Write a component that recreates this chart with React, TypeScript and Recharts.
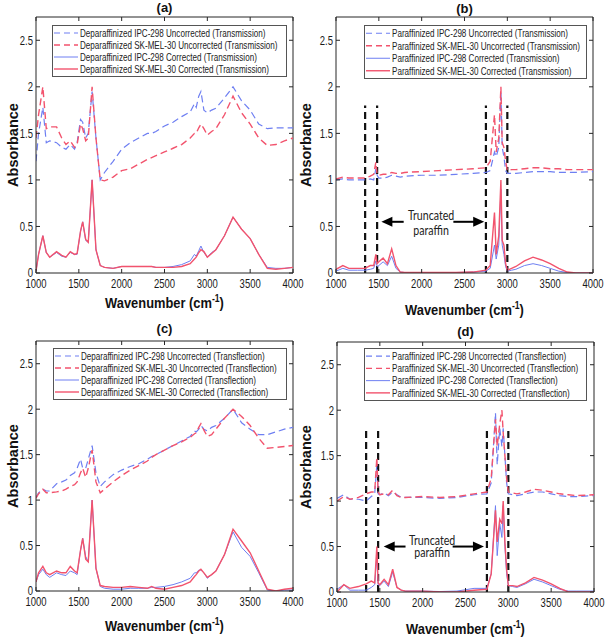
import React from 'react';
import { LineChart, Line, XAxis, YAxis, ReferenceLine, ReferenceDot, Legend } from 'recharts';

// wavenumber grids (cm-1)
const wnDep = [1000, 1030, 1080, 1120, 1160, 1240, 1300, 1350, 1400, 1450, 1480, 1520, 1545, 1580, 1610, 1655, 1700, 1750, 1800, 1900, 2000, 2100, 2200, 2300, 2350, 2400, 2500, 2600, 2700, 2800, 2850, 2870, 2900, 2925, 2960, 3000, 3050, 3100, 3200, 3300, 3400, 3500, 3600, 3700, 3800, 3900, 4000];
const wnPar = [1000, 1080, 1150, 1250, 1340, 1400, 1440, 1465, 1480, 1500, 1550, 1600, 1650, 1700, 1750, 1800, 2000, 2200, 2400, 2600, 2750, 2800, 2850, 2870, 2900, 2925, 2940, 2960, 2980, 3000, 3050, 3100, 3200, 3300, 3400, 3500, 3600, 3700, 3800, 4000];

// (a) deparaffinized, transmission
const aIpcUnc = [1.2, 1.5, 1.78, 1.4, 1.42, 1.4, 1.35, 1.33, 1.38, 1.33, 1.4, 1.65, 1.62, 1.45, 1.5, 1.95, 1.45, 1.0, 1.08, 1.2, 1.33, 1.4, 1.45, 1.5, 1.5, 1.52, 1.58, 1.62, 1.68, 1.73, 1.82, 1.78, 1.9, 1.95, 1.75, 1.72, 1.75, 1.77, 1.88, 2.0, 1.85, 1.75, 1.6, 1.55, 1.56, 1.56, 1.56];
const aSkUnc = [1.45, 1.7, 2.0, 1.55, 1.57, 1.57, 1.45, 1.38, 1.42, 1.35, 1.38, 1.6, 1.55, 1.42, 1.45, 2.0, 1.45, 1.0, 0.99, 1.03, 1.1, 1.12, 1.17, 1.22, 1.24, 1.26, 1.3, 1.34, 1.38, 1.45, 1.5, 1.5, 1.56, 1.6, 1.55, 1.48, 1.52, 1.55, 1.7, 1.9, 1.72, 1.6, 1.45, 1.37, 1.38, 1.42, 1.45];
const aIpcCor = [0.02, 0.2, 0.4, 0.22, 0.17, 0.22, 0.18, 0.17, 0.22, 0.2, 0.2, 0.45, 0.55, 0.35, 0.33, 1.0, 0.25, 0.08, 0.06, 0.05, 0.07, 0.07, 0.07, 0.07, 0.07, 0.06, 0.06, 0.07, 0.09, 0.13, 0.2, 0.18, 0.24, 0.29, 0.22, 0.17, 0.22, 0.25, 0.4, 0.6, 0.47, 0.37, 0.2, 0.06, 0.05, 0.05, 0.06];
const aSkCor = [0.02, 0.2, 0.4, 0.22, 0.17, 0.23, 0.19, 0.17, 0.23, 0.2, 0.21, 0.45, 0.55, 0.36, 0.33, 1.0, 0.25, 0.08, 0.06, 0.05, 0.07, 0.07, 0.07, 0.07, 0.07, 0.06, 0.06, 0.06, 0.07, 0.1, 0.15, 0.17, 0.22, 0.25, 0.23, 0.17, 0.21, 0.25, 0.4, 0.6, 0.47, 0.37, 0.2, 0.05, 0.04, 0.05, 0.06];

// (b) paraffinized, transmission
const bIpcUnc = [1.0, 1.01, 1.0, 1.0, 1.0, 1.01, 1.0, 1.12, 1.05, 1.02, 1.02, 1.03, 1.05, 1.04, 1.03, 1.04, 1.05, 1.05, 1.06, 1.07, 1.08, 1.1, 1.3, 1.25, 1.35, 1.95, 1.35, 1.25, 1.1, 1.07, 1.07, 1.07, 1.08, 1.09, 1.09, 1.09, 1.08, 1.08, 1.08, 1.09];
const bSkUnc = [1.01, 1.03, 1.02, 1.02, 1.02, 1.04, 1.06, 1.19, 1.06, 1.05, 1.06, 1.06, 1.08, 1.07, 1.07, 1.08, 1.09, 1.1, 1.11, 1.12, 1.13, 1.2, 1.7, 1.3, 1.45, 2.0, 1.4, 1.35, 1.2, 1.1, 1.11, 1.11, 1.12, 1.13, 1.13, 1.12, 1.12, 1.11, 1.11, 1.11];
const bIpcCor = [0.02, 0.05, 0.03, 0.03, 0.03, 0.04, 0.05, 0.13, 0.07, 0.08, 0.12, 0.08, 0.18, 0.05, 0.01, 0.005, 0.005, 0.005, 0.005, 0.01, 0.02, 0.05, 0.3, 0.15, 0.3, 0.9, 0.3, 0.2, 0.07, 0.02, 0.03, 0.04, 0.08, 0.1, 0.08, 0.05, 0.02, 0.005, 0, 0];
const bSkCor = [0.04, 0.08, 0.05, 0.05, 0.05, 0.08, 0.08, 0.2, 0.1, 0.12, 0.16, 0.1, 0.26, 0.08, 0.01, 0.005, 0.005, 0.005, 0.005, 0.01, 0.03, 0.08, 0.65, 0.2, 0.4, 1.0, 0.35, 0.3, 0.1, 0.03, 0.05, 0.07, 0.13, 0.17, 0.14, 0.1, 0.05, 0.01, 0, 0];

// (c) deparaffinized, transflection
const cIpcUnc = [1.03, 1.08, 1.12, 1.1, 1.1, 1.18, 1.2, 1.22, 1.27, 1.3, 1.35, 1.45, 1.35, 1.35, 1.45, 1.6, 1.3, 1.15, 1.2, 1.28, 1.33, 1.37, 1.4, 1.45, 1.48, 1.5, 1.55, 1.6, 1.65, 1.7, 1.76, 1.75, 1.78, 1.82, 1.78, 1.76, 1.8, 1.82, 1.9, 2.0, 1.85, 1.78, 1.72, 1.72, 1.75, 1.78, 1.8];
const cSkUnc = [1.02, 1.07, 1.12, 1.08, 1.08, 1.09, 1.1, 1.12, 1.15, 1.17, 1.2, 1.3, 1.35, 1.25, 1.35, 1.55, 1.2, 1.08, 1.12, 1.2, 1.27, 1.33, 1.38, 1.43, 1.47, 1.5, 1.55, 1.6, 1.64, 1.69, 1.73, 1.74, 1.8, 1.84, 1.77, 1.7, 1.72, 1.78, 1.9, 2.0, 1.92, 1.82, 1.68, 1.57, 1.58, 1.59, 1.6];
const cIpcCor = [0.1, 0.18, 0.24, 0.18, 0.15, 0.2, 0.18, 0.17, 0.22, 0.2, 0.18, 0.45, 0.58, 0.38, 0.32, 1.0, 0.25, 0.05, 0.03, 0.02, 0.02, 0.03, 0.03, 0.03, 0.04, 0.04, 0.05, 0.07, 0.1, 0.14, 0.2, 0.2, 0.23, 0.23, 0.2, 0.14, 0.18, 0.22, 0.4, 0.65, 0.48, 0.38, 0.2, 0.01, 0.0, 0.01, 0.01];
const cSkCor = [0.1, 0.2, 0.27, 0.2, 0.18, 0.22, 0.2, 0.2, 0.27, 0.22, 0.2, 0.45, 0.58, 0.35, 0.32, 1.0, 0.25, 0.06, 0.05, 0.04, 0.04, 0.05, 0.04, 0.03, 0.05, 0.03, 0.02, 0.04, 0.06, 0.1, 0.16, 0.18, 0.22, 0.24, 0.2, 0.15, 0.18, 0.22, 0.4, 0.68, 0.55, 0.42, 0.22, 0.02, 0.0, 0.02, 0.03];

// (d) paraffinized, transflection
const dIpcUnc = [1.03, 1.07, 1.02, 1.02, 1.0, 1.05, 1.08, 1.4, 1.08, 1.07, 1.09, 1.06, 1.1, 1.07, 1.04, 1.04, 1.04, 1.03, 1.04, 1.07, 1.08, 1.2, 1.97, 1.4, 1.8, 1.6, 1.8, 1.5, 1.2, 1.08, 1.07, 1.06, 1.08, 1.1, 1.1, 1.08, 1.06, 1.05, 1.05, 1.06];
const dSkUnc = [1.0, 1.05, 1.02, 1.04, 1.08, 1.1, 1.1, 1.48, 1.1, 1.07, 1.08, 1.07, 1.12, 1.06, 1.04, 1.04, 1.05, 1.04, 1.05, 1.08, 1.1, 1.25, 1.9, 1.6, 1.85, 2.0, 1.75, 1.5, 1.25, 1.1, 1.09, 1.08, 1.1, 1.13, 1.12, 1.1, 1.08, 1.07, 1.06, 1.07];
const dIpcCor = [0.03, 0.08, 0.02, 0.02, 0.02, 0.05, 0.08, 0.4, 0.08, 0.07, 0.12, 0.06, 0.22, 0.05, 0.02, 0.01, 0.01, 0.005, 0.01, 0.04, 0.04, 0.2, 0.95, 0.4, 0.75, 0.6, 0.95, 0.5, 0.2, 0.07, 0.06, 0.05, 0.09, 0.14, 0.11, 0.07, 0.03, 0.01, 0.01, 0.01];
const dSkCor = [0.0, 0.08, 0.04, 0.06, 0.09, 0.12, 0.1, 0.5, 0.1, 0.08, 0.14, 0.08, 0.25, 0.05, 0.02, 0.01, 0.01, 0, 0, 0.02, 0.03, 0.2, 0.9, 0.55, 0.8, 0.75, 1.0, 0.55, 0.25, 0.07, 0.07, 0.06, 0.1, 0.16, 0.13, 0.09, 0.04, 0, 0, 0];

const xTicks = [1000, 1500, 2000, 2500, 3000, 3500, 4000];
const yTicks = [0, 0.5, 1, 1.5, 2, 2.5];
const truncLines = [1340, 1480, 2750, 3000];
const Y_MAX = 2.75;

const BLUE = '#6e7ff2';
const RED = '#f2536d';
const SANS = '"Liberation Sans", Arial, sans-serif';
const AXIS = '#262626';
// the figure is horizontally squeezed, so its glyphs are narrower than the font's
const SQUEEZE = 0.76;

const names = (prep: string, mode: string) => [
  `${prep} IPC-298 Uncorrected (${mode})`,
  `${prep} SK-MEL-30 Uncorrected (${mode})`,
  `${prep} IPC-298 Corrected (${mode})`,
  `${prep} SK-MEL-30 Corrected (${mode})`,
];

const lineStyles = [
  { stroke: BLUE, dash: '7 4', width: 1.2 },
  { stroke: RED, dash: '7 4', width: 1.4 },
  { stroke: BLUE, dash: undefined, width: 1 },
  { stroke: RED, dash: undefined, width: 1.4 },
];

const build = (wn: number[], s: number[][]) =>
  wn.map((w, i) => ({ w, s0: s[0][i], s1: s[1][i], s2: s[2][i], s3: s[3][i] }));

const XTick = (p: any) => (
  <text transform={`translate(${p.x},${p.y}) scale(${SQUEEZE},1)`} textAnchor="middle" dy="0.71em"
    fontFamily={SANS} fontSize={12.5} fill="#1a1a1a">{p.payload.value}</text>
);

const YTick = (p: any) => (
  <text transform={`translate(${p.x},${p.y}) scale(${SQUEEZE},1)`} textAnchor="end" dy="0.355em"
    fontFamily={SANS} fontSize={12.5} fill="#1a1a1a">{p.payload.value}</text>
);

const LegendBox = ({ labels, w, h }: { labels: string[]; w: number; h: number }) => {
  const row = (h - 4) / 4;
  return (
    <svg width={w} height={h} style={{ display: 'block' }}>
      <rect x={0.5} y={0.5} width={w - 1} height={h - 1} fill="#fff" stroke="#555" />
      {labels.map((lab, i) => {
        const cy = 2 + row * (i + 0.5);
        return (
          <g key={lab}>
            <line x1={2} y1={cy} x2={26} y2={cy} stroke={lineStyles[i].stroke} strokeWidth={lineStyles[i].width}
              strokeDasharray={lineStyles[i].dash ? '6 4' : undefined} />
            <text transform={`translate(28,${cy}) scale(0.77,1)`} dy="0.36em" fontFamily={SANS} fontSize={10.5} fill="#222">{lab}</text>
          </g>
        );
      })}
    </svg>
  );
};

interface PanelProps {
  title: string;
  left: number;
  top: number;
  height: number;
  data: any[];
  labels: string[];
  plot: { l: number; r: number; t: number; b: number };
  legend: { x: number; y: number; w: number; h: number };
  titleY: number;
  yLabelX: number;
  xLabelDy: number;
  trunc?: { arrowY: number; textY: number; text2Y: number; leftTip: number; leftEnd: number; rightStart: number; rightTip: number };
}

const Panel: React.FC<PanelProps> = ({ title, left, top, height, data, labels, plot, legend, titleY, yLabelX, xLabelDy, trunc }) => {
  const width = 304;
  const annFont = 'Lato, "Open Sans", sans-serif';
  return (
    <div style={{ position: 'absolute', left, top, width, height }}>
      <LineChart width={width} height={height} data={data} margin={{ top: plot.t, right: width - plot.r, bottom: 0, left: 0 }}>
        <XAxis
          dataKey="w" type="number" domain={[1000, 4000]} ticks={xTicks} allowDataOverflow
          height={height - plot.b} tickSize={-4} tickMargin={10} tick={XTick}
          stroke={AXIS} interval={0}
          label={{
            content: (p: any) => {
              const vb = p.viewBox;
              const cx = vb.x + vb.width / 2;
              const cy = vb.y + xLabelDy;
              return (
                <text transform={`translate(${cx},${cy}) scale(0.86,1)`} textAnchor="middle" fontFamily={SANS} fontWeight="bold" fontSize={15} fill="#111">
                  Wavenumber (cm<tspan dy={-6} fontSize={10}>-1</tspan><tspan dy={6}>)</tspan>
                </text>
              );
            },
          }}
        />
        <YAxis
          type="number" domain={[0, Y_MAX]} ticks={yTicks} allowDataOverflow width={plot.l}
          tickSize={-4} tickMargin={7} tick={YTick} stroke={AXIS} interval={0}
          label={{
            content: (p: any) => {
              const vb = p.viewBox;
              const x = yLabelX;
              const y = vb.y + vb.height / 2;
              return (
                <text x={x} y={y} transform={`rotate(-90 ${x} ${y})`} textAnchor="middle" fontFamily={SANS} fontWeight="bold" fontSize={14.5} fill="#111">
                  Absorbance
                </text>
              );
            },
          }}
        />
        <Legend
          verticalAlign="middle" align="center" layout="horizontal"
          wrapperStyle={{ position: 'absolute', left: legend.x - left, top: legend.y - top, width: legend.w, height: legend.h }}
          content={() => <LegendBox labels={labels} w={legend.w} h={legend.h} />}
        />
        {/* box: top and right edges with inward ticks */}
        <ReferenceLine y={Y_MAX} stroke={AXIS} ifOverflow="visible" />
        <ReferenceLine x={4000} stroke={AXIS} ifOverflow="visible" />
        {xTicks.map((t) => (
          <ReferenceDot key={`tx${t}`} x={t} y={Y_MAX} r={0} ifOverflow="visible"
            shape={(p: any) => <line x1={p.cx} y1={p.cy} x2={p.cx} y2={p.cy + 4} stroke={AXIS} />} />
        ))}
        {yTicks.map((t) => (
          <ReferenceDot key={`ty${t}`} x={4000} y={t} r={0} ifOverflow="visible"
            shape={(p: any) => <line x1={p.cx - 4} y1={p.cy} x2={p.cx} y2={p.cy} stroke={AXIS} />} />
        ))}
        <ReferenceDot x={2500} y={Y_MAX} r={0} ifOverflow="visible"
          shape={(p: any) => (
            <text x={p.cx} y={titleY} textAnchor="middle" fontFamily={SANS} fontWeight="bold" fontSize={13} fill="#111">{title}</text>
          )} />
        {trunc && truncLines.map((x) => (
          <ReferenceLine key={x} segment={[{ x, y: 0 }, { x, y: 1.8 }]} stroke="#111" strokeWidth={2.2} strokeDasharray="7 4" />
        ))}
        {trunc && (
          <ReferenceLine segment={[{ x: trunc.leftTip + 80, y: trunc.arrowY }, { x: trunc.leftEnd, y: trunc.arrowY }]} stroke="#000" strokeWidth={2} />
        )}
        {trunc && (
          <ReferenceLine segment={[{ x: trunc.rightStart, y: trunc.arrowY }, { x: trunc.rightTip - 80, y: trunc.arrowY }]} stroke="#000" strokeWidth={2} />
        )}
        {trunc && (
          <ReferenceDot x={trunc.leftTip} y={trunc.arrowY} r={0}
            shape={(p: any) => <polygon points={`${p.cx},${p.cy} ${p.cx + 11},${p.cy - 5} ${p.cx + 11},${p.cy + 5}`} fill="#000" />} />
        )}
        {trunc && (
          <ReferenceDot x={trunc.rightTip} y={trunc.arrowY} r={0}
            shape={(p: any) => <polygon points={`${p.cx},${p.cy} ${p.cx - 11},${p.cy - 5} ${p.cx - 11},${p.cy + 5}`} fill="#000" />} />
        )}
        {trunc && (
          <ReferenceDot x={2110} y={trunc.textY} r={0}
            shape={(p: any) => <text transform={`translate(${p.cx},${p.cy}) scale(0.85,1)`} textAnchor="middle" dy="0.35em" fontFamily={annFont} fontSize={12.5} fill="#222">Truncated</text>} />
        )}
        {trunc && (
          <ReferenceDot x={2110} y={trunc.text2Y} r={0}
            shape={(p: any) => <text transform={`translate(${p.cx},${p.cy}) scale(0.85,1)`} textAnchor="middle" dy="0.35em" fontFamily={annFont} fontSize={12.5} fill="#222">paraffin</text>} />
        )}
        {[0, 1, 2, 3].map((k) => (
          <Line
            key={k}
            type="linear"
            dataKey={`s${k}`}
            name={labels[k]}
            stroke={lineStyles[k].stroke}
            strokeWidth={lineStyles[k].width}
            strokeDasharray={lineStyles[k].dash}
            dot={false}
            activeDot={false}
            isAnimationActive={false}
          />
        ))}
      </LineChart>
    </div>
  );
};

export default function App() {
  return (
    <div style={{ position: 'absolute', left: 0, top: 0, width: 608, height: 639, background: '#fff' }}>
      <style>{'.recharts-surface { overflow: visible; }'}</style>
      <Panel
        title="(a)" left={0} top={0} height={320}
        data={build(wnDep, [aIpcUnc, aSkUnc, aIpcCor, aSkCor])}
        labels={names('Deparaffinized', 'Transmission')}
        plot={{ l: 36, r: 293, t: 17, b: 273 }}
        legend={{ x: 52, y: 25, w: 235, h: 52 }}
        titleY={12} yLabelX={18} xLabelDy={35}
      />
      <Panel
        title="(b)" left={304} top={0} height={320}
        data={build(wnPar, [bIpcUnc, bSkUnc, bIpcCor, bSkCor])}
        labels={names('Paraffinized', 'Transmission')}
        plot={{ l: 32, r: 289, t: 17, b: 273 }}
        legend={{ x: 364, y: 25, w: 223, h: 54 }}
        titleY={13} yLabelX={7} xLabelDy={42}
        trunc={{ arrowY: 0.55, textY: 0.62, text2Y: 0.46, leftTip: 1530, leftEnd: 1790, rightStart: 2370, rightTip: 2730 }}
      />
      <Panel
        title="(c)" left={0} top={320} height={319}
        data={build(wnDep, [cIpcUnc, cSkUnc, cIpcCor, cSkCor])}
        labels={names('Deparaffinized', 'Transflection')}
        plot={{ l: 36, r: 293, t: 21, b: 271 }}
        legend={{ x: 53, y: 348, w: 234, h: 52 }}
        titleY={13} yLabelX={18} xLabelDy={40}
      />
      <Panel
        title="(d)" left={304} top={320} height={319}
        data={build(wnPar, [dIpcUnc, dSkUnc, dIpcCor, dSkCor])}
        labels={names('Paraffinized', 'Transflection')}
        plot={{ l: 33, r: 290, t: 22, b: 272 }}
        legend={{ x: 364, y: 348, w: 223, h: 53 }}
        titleY={16} yLabelX={7} xLabelDy={42}
        trunc={{ arrowY: 0.5, textY: 0.57, text2Y: 0.43, leftTip: 1545, leftEnd: 1800, rightStart: 2350, rightTip: 2715 }}
      />
    </div>
  );
}
